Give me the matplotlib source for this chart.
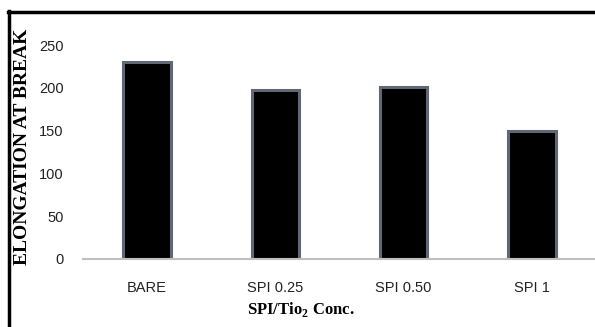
"""Elongation at break bar chart."""
import matplotlib
matplotlib.use('Agg')
import matplotlib.pyplot as plt
from matplotlib.lines import Line2D

categories = ["BARE", "SPI 0.25", "SPI 0.50", "SPI 1"]
elongation = [230, 198, 201, 150]
y_ticks = [0, 50, 100, 150, 200, 250]

plt.rcParams['mathtext.fontset'] = 'custom'
plt.rcParams['mathtext.rm'] = 'Liberation Serif'
plt.rcParams['mathtext.bf'] = 'Liberation Serif:bold'

fig = plt.figure(figsize=(5.95, 3.27), dpi=100)
ax = fig.add_axes([0.1395, 0.208, 0.862, 0.654])

x = range(len(categories))
ax.bar(x, elongation, width=0.37, color='black', edgecolor='#5f6874', linewidth=2.2)

ax.set_xlim(-0.5, len(categories) - 0.5)
ax.set_ylim(0, 250)
ax.set_yticks(y_ticks)
ax.set_xticks(list(x))
ax.set_xticklabels(categories)
for lab in ax.get_xticklabels() + ax.get_yticklabels():
    lab.set_family('Liberation Sans')
    lab.set_fontsize(10.5)
    lab.set_color('#222222')
ax.tick_params(axis='both', length=0)
ax.tick_params(axis='y', pad=14)
ax.tick_params(axis='x', pad=16)

for s in ['top', 'right', 'left']:
    ax.spines[s].set_visible(False)
ax.spines['bottom'].set_color('#bfbfbf')
ax.spines['bottom'].set_linewidth(1.5)

fig.text(0.505, 0.052, r'SPI/Tio$_\mathbf{2}$ Conc.', ha='center', va='center',
         family='Liberation Serif', fontweight='bold', fontsize=12)
fig.text(0.037, 0.55, 'ELONGATION AT BREAK', ha='center', va='center', rotation=90,
         family='Liberation Serif', fontweight='bold', fontsize=14)

# outer frame (top and left edges visible)
fig.add_artist(Line2D([0.014, 1.0], [0.963, 0.963], color='black', linewidth=2.5,
                      transform=fig.transFigure))
fig.add_artist(Line2D([0.015, 0.015], [0.0, 0.965], color='black', linewidth=2.5,
                      transform=fig.transFigure))

fig.savefig('out.png', dpi=100)
